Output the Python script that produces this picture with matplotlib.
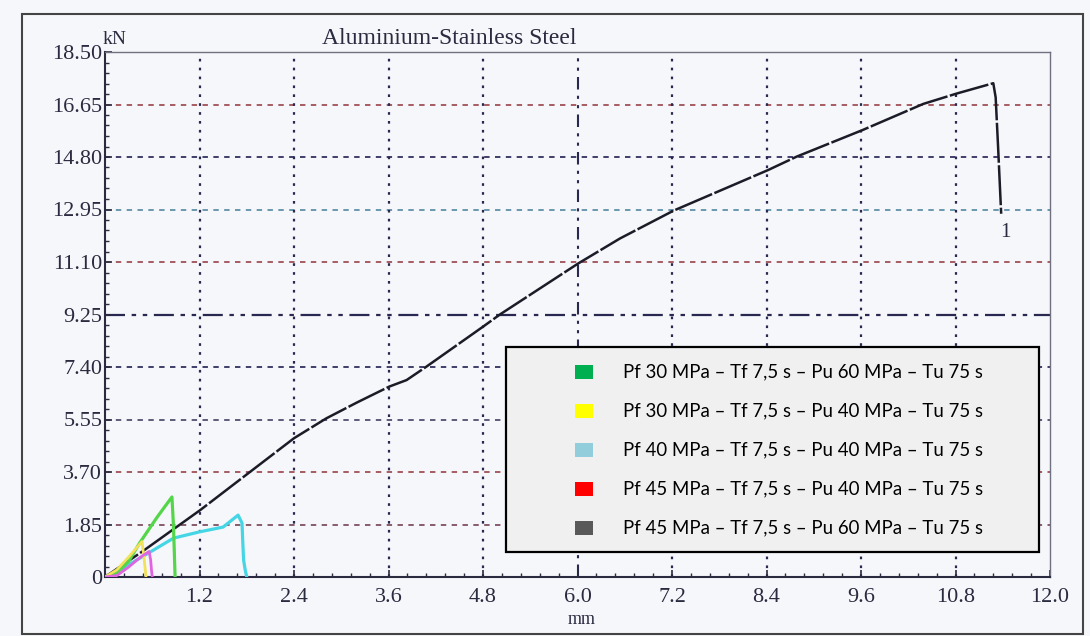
import matplotlib.pyplot as plt
from matplotlib.patches import Rectangle
from matplotlib.ticker import MultipleLocator, FixedLocator

W, H = 1090, 636

# ------------------------------------------------------------
# data
# ------------------------------------------------------------

black_x = [0, 0.5, 1.21, 1.84, 2.40, 2.81, 3.20, 3.61, 3.83, 4.08, 4.80,
           5.02, 6.01, 6.54, 7.22, 8.42, 8.78, 9.62, 10.39, 10.82, 11.28,
           11.31, 11.34, 11.36, 11.38]
black_y = [0, 0.95, 2.36, 3.70, 4.89, 5.59, 6.15, 6.71, 6.94, 7.41, 8.82,
           9.26, 11.05, 11.93, 12.91, 14.34, 14.81, 15.75, 16.67, 17.04, 17.40,
           16.9, 15.2, 14.0, 12.8]

green_x = [0, 0.15, 0.30, 0.44, 0.55, 0.66, 0.76, 0.85, 0.86, 0.87, 0.88, 0.89]
green_y = [0, 0.14, 0.55, 1.20, 1.65, 2.10, 2.48, 2.82, 2.3, 1.76, 0.9, 0.0]

yellow_x = [0, 0.15, 0.30, 0.47, 0.49, 0.51, 0.52]
yellow_y = [0, 0.25, 0.70, 1.25, 0.8, 0.3, 0.0]

magenta_x = [0, 0.15, 0.30, 0.45, 0.56, 0.58, 0.59, 0.60]
magenta_y = [0, 0.05, 0.35, 0.70, 0.90, 0.6, 0.25, 0.0]

cyan_x = [0, 0.25, 0.55, 0.87, 1.20, 1.50, 1.69, 1.74, 1.75, 1.76, 1.78, 1.80]
cyan_y = [0, 0.35, 0.84, 1.37, 1.59, 1.76, 2.18, 1.90, 1.2, 0.6, 0.25, 0.0]

y_ticks = [0, 1.85, 3.70, 5.55, 7.40, 9.25, 11.10, 12.95, 14.80, 16.65, 18.50]
y_labels = ["0", "1.85", "3.70", "5.55", "7.40", "9.25", "11.10", "12.95",
            "14.80", "16.65", "18.50"]
x_ticks = [1.2, 2.4, 3.6, 4.8, 6.0, 7.2, 8.4, 9.6, 10.8, 12.0]

legend_labels = [
    "Pf 30 MPa \u2013 Tf 7,5 s \u2013 Pu 60 MPa \u2013 Tu 75 s",
    "Pf 30 MPa \u2013 Tf 7,5 s \u2013 Pu 40 MPa \u2013 Tu 75 s",
    "Pf 40 MPa \u2013 Tf 7,5 s \u2013 Pu 40 MPa \u2013 Tu 75 s",
    "Pf 45 MPa \u2013 Tf 7,5 s \u2013 Pu 40 MPa \u2013 Tu 75 s",
    "Pf 45 MPa \u2013 Tf 7,5 s \u2013 Pu 60 MPa \u2013 Tu 75 s",
]
legend_colors = ["#00b050", "#ffff00", "#92cddc", "#ff0000", "#595959"]

hgrid_colors = ["#805060", "#a05058", "#505070", "#303060", "#282850",
                "#a05058", "#6090a8", "#303060", "#a05058"]


def fx(px):
    return px / W


def fy(py):
    return 1 - py / H


bg = "#f6f7fa"
ink = "#2a2a40"

fig = plt.figure(figsize=(W / 100, H / 100), dpi=100, facecolor=bg)

# outer scan frame
fig.add_artist(Rectangle(
    (fx(22), fy(634)), fx(1083) - fx(22), fy(14) - fy(634),
    transform=fig.transFigure, fill=False,
    edgecolor="#444444", linewidth=1.5
))

ax = fig.add_axes([fx(105), fy(577), fx(1050) - fx(105), fy(52) - fy(577)])
ax.set_facecolor(bg)

ax.set_xlim(0, 12.0)
ax.set_ylim(0, 18.5)

# grid
for yv, col in zip(y_ticks[1:-1], hgrid_colors):
    if abs(yv - 9.25) < 1e-6:
        ax.axhline(yv, color=col, linewidth=1.6,
                   linestyle=(0, (9, 3, 2, 3, 2, 3)), zorder=1)
    else:
        ax.axhline(yv, color=col, linewidth=1.3,
                   linestyle=(0, (3, 3)), zorder=1)

for xv in x_ticks[:-1]:
    if abs(xv - 6.0) < 1e-6:
        ax.axvline(xv, color="#282850", linewidth=1.5,
                   linestyle=(0, (6, 3, 1.5, 3, 1.5, 3)), zorder=1)
    else:
        ax.axvline(xv, color="#282850", linewidth=1.6,
                   linestyle=(0, (1.2, 2.8)), zorder=1)

# curves
ax.plot(cyan_x, cyan_y, color="#45d6e6", linewidth=2.3, zorder=3)
ax.plot(black_x, black_y, color="#1c1c28", linewidth=1.8,
        linestyle=(0, (16, 1)), zorder=4)
ax.plot(green_x, green_y, color="#55d64a", linewidth=2.3, zorder=5)
ax.plot(yellow_x, yellow_y, color="#f2e15a", linewidth=2.0, zorder=5)
ax.plot(magenta_x, magenta_y, color="#e064e0", linewidth=2.0, zorder=6)

ax.text(11.43, 12.15, "1", fontsize=15, family="Liberation Serif",
        color=ink, ha="center", va="center")

# ticks
ax.xaxis.set_major_locator(FixedLocator(x_ticks))
ax.set_xticklabels([f"{v:.1f}" for v in x_ticks])
ax.xaxis.set_minor_locator(MultipleLocator(0.24))
ax.set_yticks(y_ticks)
ax.set_yticklabels(y_labels)
ax.yaxis.set_minor_locator(MultipleLocator(0.37))

ax.tick_params(axis="both", which="major", direction="in", length=5,
               width=1.2, color=ink, labelcolor=ink, labelsize=16)
ax.tick_params(axis="both", which="minor", direction="in", length=3,
               width=1.0, color=ink)
ax.tick_params(axis="x", which="major", pad=8)
ax.tick_params(axis="y", which="major", pad=2)

for lab in ax.get_xticklabels() + ax.get_yticklabels():
    lab.set_family("Liberation Serif")

for side in ["left", "bottom", "top", "right"]:
    ax.spines[side].set_color(ink)
    ax.spines[side].set_linewidth(1.5)
ax.spines["top"].set_color("#707080")
ax.spines["top"].set_linewidth(1.0)
ax.spines["right"].set_color("#707080")
ax.spines["right"].set_linewidth(1.0)

# titles / units
fig.text(fx(449), fy(38), "Aluminium-Stainless Steel", fontsize=17,
         family="Liberation Serif", color=ink, ha="center", va="center")
fig.text(fx(103), fy(39), "kN", fontsize=14, family="Liberation Serif",
         color=ink, ha="left", va="center")
fig.text(fx(582), fy(619), "mm", fontsize=13, family="Liberation Serif",
         color=ink, ha="center", va="center")

# legend box
fig.add_artist(Rectangle(
    (fx(506), fy(552)), fx(1039) - fx(506), fy(347) - fy(552),
    transform=fig.transFigure, facecolor="#f0f0f0",
    edgecolor="black", linewidth=1.6, zorder=10
))

row_y = [372, 411, 450, 489, 528]
for py, lab, col in zip(row_y, legend_labels, legend_colors):
    fig.add_artist(Rectangle(
        (fx(575), fy(py + 7)), fx(593) - fx(575), fy(py - 7) - fy(py + 7),
        transform=fig.transFigure, facecolor=col, edgecolor="none", zorder=11
    ))
    fig.text(fx(623), fy(py), lab, fontsize=13.4, family="Lato",
             color="black", ha="left", va="center", zorder=12)

fig.savefig("out.png", dpi=100, facecolor=bg)
